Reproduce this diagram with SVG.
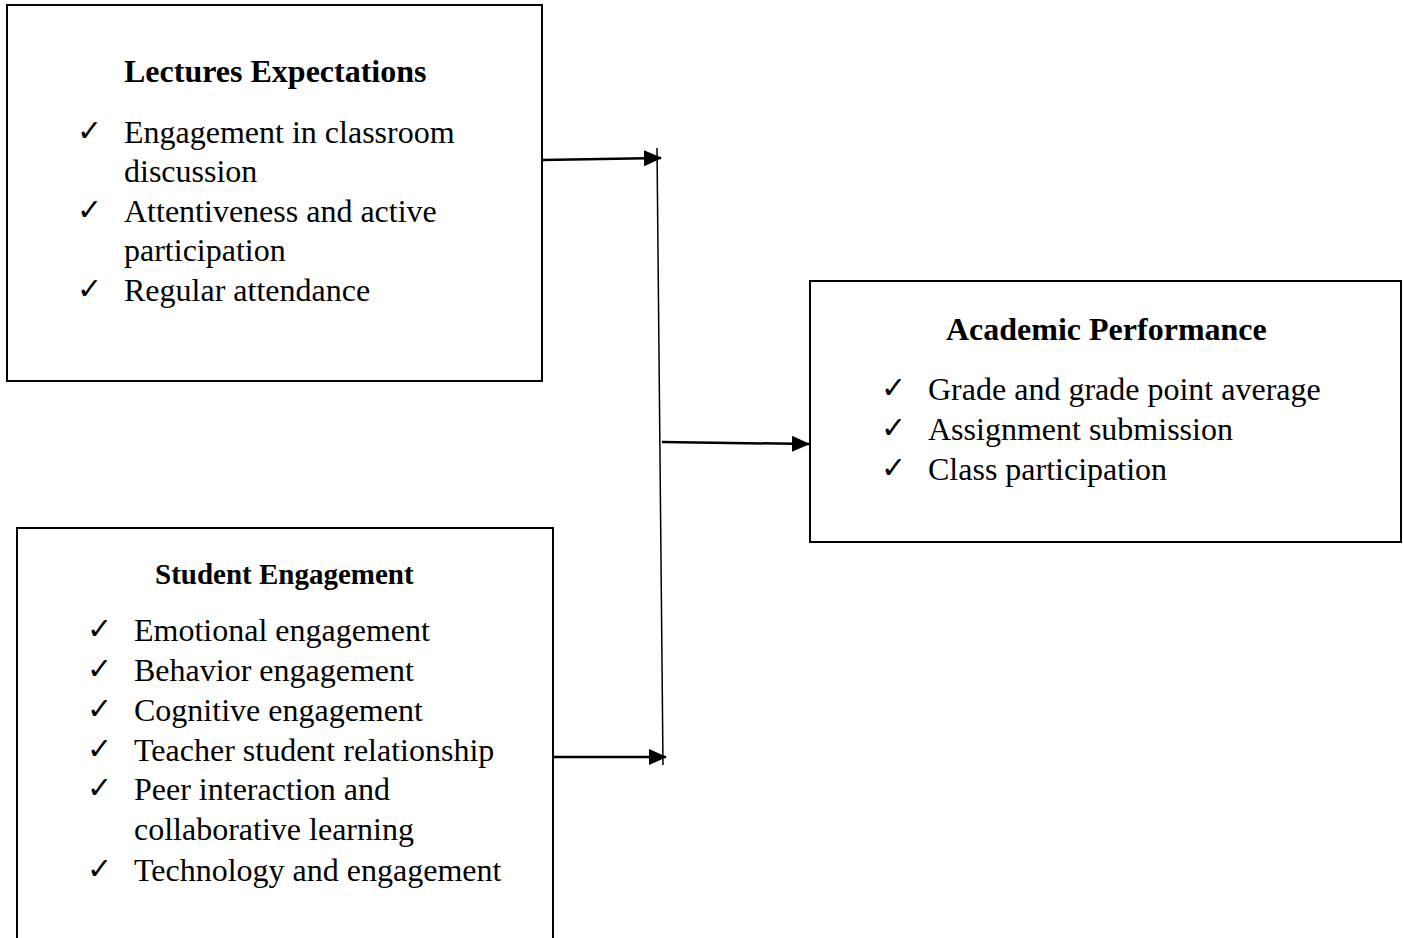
<svg xmlns="http://www.w3.org/2000/svg" width="1403" height="938" viewBox="0 0 1403 938">
  <style>
    .box { fill: #fff; stroke: #000; stroke-width: 2; }
    .title { font-family: "Liberation Serif", "Times New Roman", serif; font-weight: bold; font-size: 32px; fill: #000; }
    .item { font-family: "Liberation Serif", "Times New Roman", serif; font-size: 32px; fill: #000; }
    .tick { font-family: "DejaVu Sans", sans-serif; font-weight: bold; font-size: 30px; fill: #000; }
    .link { stroke: #000; stroke-width: 2.5; fill: none; }
    .spine { stroke: #000; stroke-width: 1.5; fill: none; }
  </style>
  <defs>
    <marker id="arrow" viewBox="0 0 18 16" refX="17" refY="8" markerWidth="18" markerHeight="16" markerUnits="userSpaceOnUse" orient="auto">
      <path d="M0,0 L18,8 L0,16 Z" fill="#000"/>
    </marker>
  </defs>
  <rect width="1403" height="938" fill="#fff"/>

  <g id="lectures-expectations">
    <rect class="box" x="7" y="5" width="535" height="376"/>
    <text class="title" x="124" y="82">Lectures Expectations</text>
    <text class="tick" x="77" y="141">✓</text>
    <text class="item" x="124" y="143">Engagement in classroom</text>
    <text class="item" x="124" y="182">discussion</text>
    <text class="tick" x="77" y="220">✓</text>
    <text class="item" x="124" y="222">Attentiveness and active</text>
    <text class="item" x="124" y="261">participation</text>
    <text class="tick" x="77" y="299">✓</text>
    <text class="item" x="124" y="301">Regular attendance</text>
  </g>

  <g id="student-engagement">
    <rect class="box" x="17" y="528" width="536" height="420"/>
    <text class="title" x="155" y="584" style="font-size:29px">Student Engagement</text>
    <text class="tick" x="87" y="639">✓</text>
    <text class="item" x="134" y="641">Emotional engagement</text>
    <text class="tick" x="87" y="679">✓</text>
    <text class="item" x="134" y="681">Behavior engagement</text>
    <text class="tick" x="87" y="719">✓</text>
    <text class="item" x="134" y="721">Cognitive engagement</text>
    <text class="tick" x="87" y="759">✓</text>
    <text class="item" x="134" y="761">Teacher student relationship</text>
    <text class="tick" x="87" y="798">✓</text>
    <text class="item" x="134" y="800">Peer interaction and</text>
    <text class="item" x="134" y="840">collaborative learning</text>
    <text class="tick" x="87" y="879">✓</text>
    <text class="item" x="134" y="881">Technology and engagement</text>
  </g>

  <g id="academic-performance">
    <rect class="box" x="810" y="281" width="591" height="261"/>
    <text class="title" x="946" y="340">Academic Performance</text>
    <text class="tick" x="881" y="398">✓</text>
    <text class="item" x="928" y="400">Grade and grade point average</text>
    <text class="tick" x="881" y="438">✓</text>
    <text class="item" x="928" y="440">Assignment submission</text>
    <text class="tick" x="881" y="478">✓</text>
    <text class="item" x="928" y="480">Class participation</text>
  </g>

  <g id="connectors">
    <line class="link" x1="542" y1="160" x2="661" y2="158" marker-end="url(#arrow)"/>
    <line class="spine" x1="657" y1="148" x2="663" y2="765"/>
    <line class="link" x1="553" y1="757" x2="666" y2="757" marker-end="url(#arrow)"/>
    <line class="link" x1="662" y1="442" x2="809" y2="444" marker-end="url(#arrow)"/>
  </g>
</svg>
